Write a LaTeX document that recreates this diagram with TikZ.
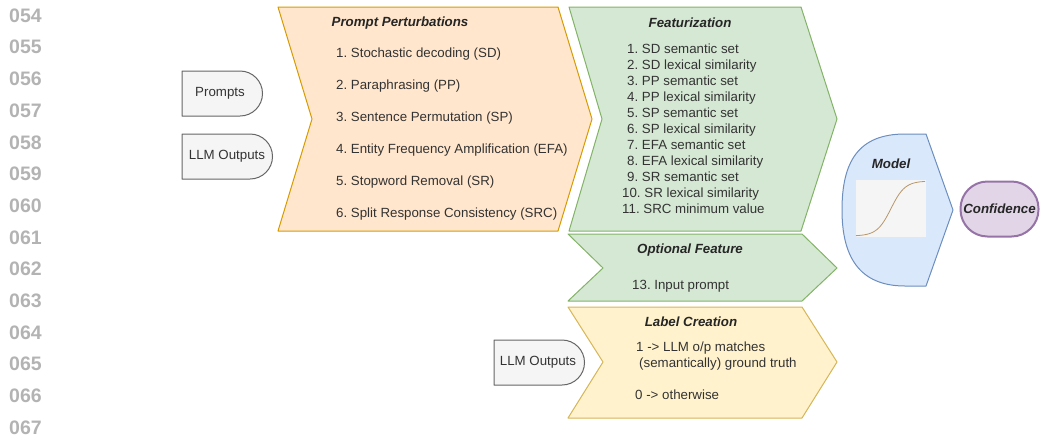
\documentclass[tikz,border=0pt]{standalone}
\usepackage{fontspec}
\setmainfont{Liberation Sans}
\usetikzlibrary{calc}
\frenchspacing
\definecolor{ppfill}{HTML}{FFE6CC}
\definecolor{ppline}{HTML}{D79B00}
\definecolor{ftfill}{HTML}{D5E8D4}
\definecolor{ftline}{HTML}{82B366}
\definecolor{lcfill}{HTML}{FFF2CC}
\definecolor{lcline}{HTML}{D6B656}
\definecolor{mdfill}{HTML}{DAE8FC}
\definecolor{mdline}{HTML}{6C8EBF}
\definecolor{cffill}{HTML}{E1D5E7}
\definecolor{cfline}{HTML}{9673A6}
\definecolor{inpfill}{HTML}{F5F5F5}
\definecolor{inpline}{HTML}{666666}
\definecolor{lgray}{HTML}{B3B3B3}
\definecolor{sigcol}{HTML}{B8976A}
\begin{document}
\begin{tikzpicture}[x=1pt,y=1pt,line join=round,
    txt/.style={inner sep=0pt,text=black!80,font=\fontsize{13.3}{16}\selectfont},
    ttl/.style={inner sep=0pt,text=black!85,font=\fontsize{13.3}{16}\selectfont\bfseries\itshape},
    lnum/.style={inner sep=0pt,anchor=west,text=lgray,font=\fontsize{19.5}{20}\selectfont\bfseries},
    inbox/.style={fill=inpfill,draw=inpline,line width=1pt},
    ppbox/.style={fill=ppfill,draw=ppline,line width=1pt},
    ftbox/.style={fill=ftfill,draw=ftline,line width=1pt},
    lcbox/.style={fill=lcfill,draw=lcline,line width=1pt}]
\useasboundingbox (0,0) rectangle (1040,-437);
\foreach \n [count=\i from 0] in {054,055,056,057,058,059,060,061,062,063,064,065,066,067}
    \node[lnum] (ln\n) at (9,{-15.5-31.7*\i}) {\n};

\draw[inbox] (182,-71) -- (240,-71) arc[start angle=90,end angle=-90,radius=22.5pt] -- (182,-116) -- cycle;
\node[txt] (prompts) at (220,-93) {Prompts};
\draw[inbox] (182,-134) -- (250,-134) arc[start angle=90,end angle=-90,radius=22.5pt] -- (182,-179) -- cycle;
\node[txt] (outputs) at (227,-156) {LLM Outputs};

\draw[ppbox] (278,-7) -- (558,-7) -- (592,-119) -- (558,-231) -- (278,-231) -- (312,-119) -- cycle;
\node[ttl] (pptitle) at (400,-23) {Prompt Perturbations};
\foreach \t [count=\i] in {Stochastic decoding (SD),Paraphrasing (PP),Sentence Permutation (SP),
    Entity Frequency Amplification (EFA),Stopword Removal (SR),Split Response Consistency (SRC)}
    \node[txt,anchor=base west] (pp\i) at (336,{-25-32*\i}) {\i. \t};

\draw[ftbox] (569,-7) -- (801,-7) -- (837,-119) -- (801,-231) -- (569,-231) -- (602,-119) -- cycle;
\node[ttl] (fttitle) at (690,-23) {Featurization};
\foreach \t/\xx [count=\i] in {SD semantic set/627,SD lexical similarity/627,PP semantic set/627,
    PP lexical similarity/627,SP semantic set/627,SP lexical similarity/627,EFA semantic set/627,
    EFA lexical similarity/627,SR semantic set/627,SR lexical similarity/622,SRC minimum value/622}
    \node[txt,anchor=base west] (ft\i) at (\xx,{-37-16*\i}) {\i. \t};

\draw[ftbox] (568,-234) -- (802,-234) -- (837,-268) -- (802,-301) -- (568,-301) -- (603,-268) -- cycle;
\node[ttl] (optitle) at (690,-250) {Optional Feature};
\node[txt,anchor=base west] (op13) at (632,-289) {13. Input prompt};

\draw[lcbox] (568,-307) -- (802,-307) -- (837,-362) -- (802,-418) -- (568,-418) -- (603,-362) -- cycle;
\draw[inbox] (494,-340) -- (562,-340) arc[start angle=90,end angle=-90,radius=22.5pt] -- (494,-385) -- cycle;
\node[txt] (outputs2) at (538,-362) {LLM Outputs};
\node[ttl] (lctitle) at (691,-322) {Label Creation};
\node[txt,anchor=base west] (lcone) at (636,-351) {1 -> LLM o/p matches};
\node[txt,anchor=base west] (lctruth) at (639,-367) {(semantically) ground truth};
\node[txt,anchor=base west] (lczero) at (635,-399) {0 -> otherwise};

\draw[fill=mdfill,draw=mdline,line width=1pt] (926,-134) -- (953,-210) -- (926,-286) -- (905,-286)
    .. controls (858,-286) and (842,-255) .. (842,-210)
    .. controls (842,-162) and (858,-134) .. (905,-134) -- cycle;
\node[ttl] (model) at (891,-164) {Model};
\fill[inpfill] (856,-180) rectangle (926,-237);
\draw[sigcol,line width=0.8pt,domain=856:925,samples=60] plot (\x,{-236+55/(1+exp(-(\x-891)/7))});
\node[ttl,draw=cfline,fill=cffill,line width=2pt,rounded corners=27pt,minimum width=78pt,
    minimum height=55pt] (conf) at (999.5,-209) {Confidence};
\end{tikzpicture}
\end{document}
